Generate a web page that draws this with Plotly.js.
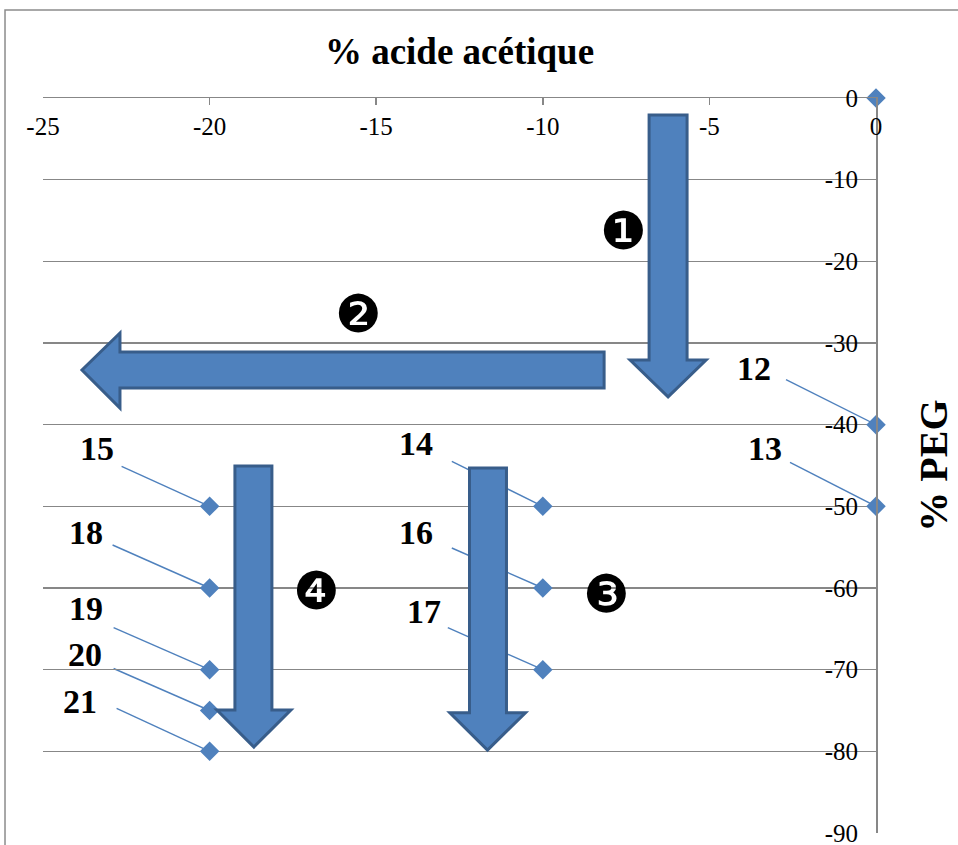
<!DOCTYPE html>
<html>
<head>
<meta charset="utf-8">
<script src="https://cdn.plot.ly/plotly-3.0.1.min.js"></script>
<style>html,body{margin:0;padding:0;background:#fff;}#chart{width:958px;height:845px;}</style>
</head>
<body>
<div id="chart"></div>
<script>
// ---- data ----
const acidePct = [0, 0, 0, -10, -10, -10, -20, -20, -20, -20, -20];
const pegPct   = [0, -40, -50, -50, -60, -70, -50, -60, -70, -75, -80];
const pointLabels = ['', '12', '13', '14', '16', '17', '15', '18', '19', '20', '21'];
const xTickVals = [-25, -20, -15, -10, -5, 0];
const xTickText = ['-25', '-20', '-15', '-10', '-5', '0'];
const yTickVals = [-90, -80, -70, -60, -50, -40, -30, -20, -10, 0];
const yTickText = ['-90', '-80', '-70', '-60', '-50', '-40', '-30', '-20', '-10', '0'];
const stepLabels = ['\u2776', '\u2777', '\u2778', '\u2779'];

// ---- placement (pixels, screen-down positive) ----
const labelShift = [null, [-122,-56], [-111,-58], [-127,-63], [-127,-56], [-119,-58],
                    [-113,-58], [-124,-56], [-124,-61], [-125,-56], [-130,-50]];
const lineStart  = [null, [-90,-45], [-86,-44], [-91,-45], [-91,-40], [-95,-42],
                    [-88,-40], [-97,-43], [-96,-42], [-96,-42], [-93,-43]];
// step markers positions (data space)
const stepPos = [[-7.59,-16.3],[-15.52,-26.45],[-8.09,-60.7],[-16.79,-60.4]];
// block arrows (data-space outlines)
const arrows = [
  [[-6.81,-2.08],[-5.67,-2.08],[-5.67,-32.08],[-5.10,-32.08],[-6.24,-36.6],[-7.38,-32.08],[-6.81,-32.08]],
  [[-8.16,-31.1],[-8.16,-35.5],[-22.69,-35.5],[-22.69,-37.96],[-23.83,-33.3],[-22.69,-28.77],[-22.69,-31.1]],
  [[-12.20,-45.30],[-11.09,-45.30],[-11.09,-75.27],[-10.52,-75.27],[-11.66,-79.84],[-12.79,-75.27],[-12.20,-75.27]],
  [[-19.24,-45.06],[-18.13,-45.06],[-18.13,-74.94],[-17.56,-74.94],[-18.67,-79.47],[-19.78,-74.94],[-19.24,-74.94]]
];

const blue = '#4F81BD';
const gray = '#878787';
const serif = 'Liberation Serif';

const shapes = [];
// outer chart frame
shapes.push({type:'rect', xref:'paper', yref:'paper', x0:-0.0456, x1:1.2, y0:-0.1, y1:1.1197,
  line:{color:'#8c8c8c', width:1.5}, fillcolor:'rgba(0,0,0,0)', layer:'below'});
// leader lines
for (let i = 0; i < acidePct.length; i++) {
  if (!lineStart[i]) continue;
  shapes.push({type:'line', xref:'x', yref:'y', xsizemode:'pixel', ysizemode:'pixel',
    xanchor: acidePct[i], yanchor: pegPct[i],
    x0: lineStart[i][0], y0: -lineStart[i][1], x1: 0, y1: 0,
    line:{color:blue, width:1.4}, layer:'below'});
}
// block arrows
arrows.forEach(a => {
  const p = 'M' + a.map(v => v[0] + ',' + v[1]).join('L') + 'Z';
  shapes.push({type:'path', xref:'x', yref:'y', path:p, fillcolor:blue,
    line:{color:'#385D8A', width:3}, layer:'above'});
});

const annotations = [];
for (let i = 0; i < acidePct.length; i++) {
  if (!pointLabels[i]) continue;
  annotations.push({x: acidePct[i], y: pegPct[i], xref:'x', yref:'y', text: pointLabels[i],
    showarrow:false, xshift: labelShift[i][0], yshift: -labelShift[i][1],
    font:{family:serif, size:34, color:'#000', weight:'bold'}});
}
stepLabels.forEach((t, i) => {
  annotations.push({x: stepPos[i][0], y: stepPos[i][1], xref:'x', yref:'y', text:t,
    showarrow:false, font:{family:'DejaVu Sans', size:52, color:'#000'}});
});

const traces = [{
  type:'scatter', mode:'markers', x: acidePct, y: pegPct,
  marker:{symbol:'diamond', size:15, color:blue}, cliponaxis:false, hoverinfo:'none'
}];

const layout = {
  width:958, height:845,
  margin:{l:43, r:82, t:98, b:12},
  paper_bgcolor:'#fff', plot_bgcolor:'#fff',
  showlegend:false, hovermode:false,
  font:{family:serif, color:'#000'},
  xaxis:{
    side:'top', range:[-25, 0], tickvals:xTickVals, ticktext:xTickText,
    showgrid:false, zeroline:false, showline:true, linecolor:gray, linewidth:1.5,
    ticks:'inside', ticklen:7, tickcolor:gray, tickwidth:1.5,
    ticklabelposition:'inside', ticklabeloverflow:'allow', ticklabelstandoff:14,
    tickfont:{family:serif, size:25, color:'#000'},
    title:{text:'% acide acétique', standoff:36, font:{family:serif, size:37, color:'#000', weight:'bold'}},
    fixedrange:true
  },
  yaxis:{
    side:'right', range:[-90, 0], tickvals:yTickVals, ticktext:yTickText,
    showgrid:true, gridcolor:gray, gridwidth:1.5, zeroline:false,
    showline:true, linecolor:gray, linewidth:1.5, ticks:'',
    ticklabelposition:'inside', ticklabeloverflow:'allow', ticklabelstandoff:20,
    tickfont:{family:serif, size:25, color:'#000'},
    title:{text:'% PEG', standoff:62, font:{family:serif, size:40, color:'#000', weight:'bold'}},
    fixedrange:true
  },
  shapes: shapes,
  annotations: annotations
};

Plotly.newPlot('chart', traces, layout, {displayModeBar:false, staticPlot:true});
</script>
</body>
</html>
